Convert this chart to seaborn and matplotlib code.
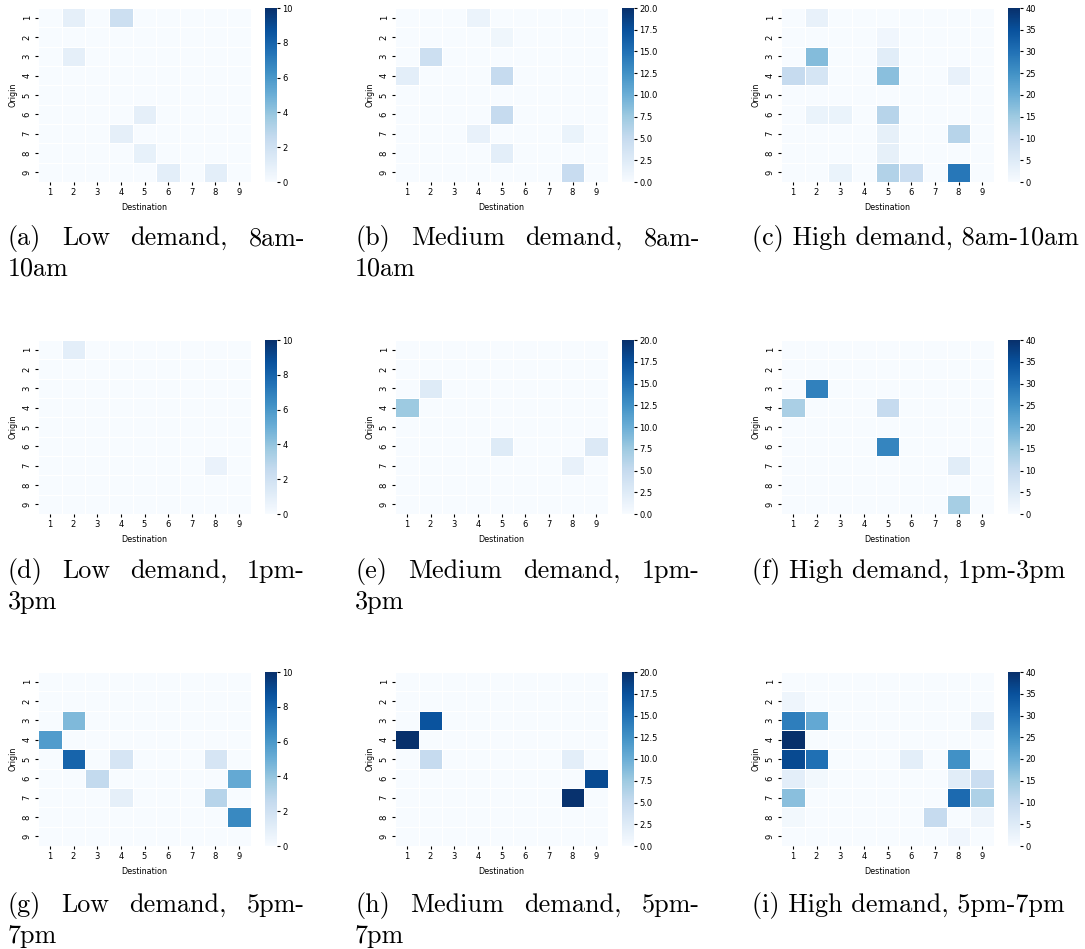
import numpy as np
import matplotlib
matplotlib.use("Agg")
import matplotlib.pyplot as plt
import seaborn as sns

zones = [1, 2, 3, 4, 5, 6, 7, 8, 9]

low_8am = [
    [0, 0.9, 0, 2.2, 0, 0, 0, 0, 0],
    [0, 0, 0, 0, 0, 0, 0, 0, 0],
    [0, 0.9, 0, 0, 0, 0, 0, 0, 0],
    [0, 0, 0, 0, 0, 0, 0, 0, 0],
    [0, 0, 0, 0, 0, 0, 0, 0, 0],
    [0, 0, 0, 0, 0.9, 0, 0, 0, 0],
    [0, 0, 0, 0.9, 0, 0, 0, 0, 0],
    [0, 0, 0, 0, 0.8, 0, 0, 0, 0],
    [0, 0, 0, 0, 0, 1.0, 0, 1.0, 0],
]
med_8am = [
    [0, 0, 0, 1.2, 0, 0, 0, 0, 0],
    [0, 0, 0, 0, 0.8, 0, 0, 0, 0],
    [0, 4.4, 0, 0, 0, 0, 0, 0, 0],
    [2.0, 0, 0, 0, 5.0, 0, 0, 0, 0],
    [0, 0, 0, 0, 0, 0, 0, 0, 0],
    [0, 0, 0, 0, 5.0, 0, 0, 0, 0],
    [0, 0, 0, 1.5, 0, 0, 0, 1.3, 0],
    [0, 0, 0, 0, 2.0, 0, 0, 0, 0],
    [0, 0, 0, 0, 0, 0, 0, 4.8, 0],
]
high_8am = [
    [0, 3.0, 0, 0, 0, 0, 0, 0, 0],
    [0, 0, 0, 0, 1.5, 0, 0, 0, 0],
    [0, 17.5, 0, 0, 4.5, 0, 0, 0, 0],
    [10.0, 7.0, 0, 0, 17.0, 0, 0, 3.0, 0],
    [0, 0, 0, 0, 0, 0, 0, 0, 0],
    [0, 2.5, 2.5, 0, 12.0, 0, 0, 0, 0],
    [0, 0, 0, 0, 3.5, 0, 0, 12.0, 0],
    [0, 0, 0, 0, 3.5, 0, 0, 0, 0],
    [0, 0, 2.5, 0, 12.5, 9.0, 0, 29.0, 0],
]
low_1pm = [
    [0, 1.0, 0, 0, 0, 0, 0, 0, 0],
    [0, 0, 0, 0, 0, 0, 0, 0, 0],
    [0, 0, 0, 0, 0, 0, 0, 0, 0],
    [0, 0, 0, 0, 0, 0, 0, 0, 0],
    [0, 0, 0, 0, 0, 0, 0, 0, 0],
    [0, 0, 0, 0, 0, 0, 0, 0, 0],
    [0, 0, 0, 0, 0, 0, 0, 0.7, 0],
    [0, 0, 0, 0, 0, 0, 0, 0, 0],
    [0, 0, 0, 0, 0, 0, 0, 0, 0],
]
med_1pm = [
    [0, 0, 0, 0, 0, 0, 0, 0, 0],
    [0, 0, 0, 0, 0, 0, 0, 0, 0],
    [0, 2.5, 0, 0, 0, 0, 0, 0, 0],
    [7.5, 0, 0, 0, 0, 0, 0, 0, 0],
    [0, 0, 0, 0, 0, 0, 0, 0, 0],
    [0, 0, 0, 0, 2.5, 0, 0, 0, 2.8],
    [0, 0, 0, 0, 0, 0, 0, 1.5, 0],
    [0, 0, 0, 0, 0, 0, 0, 0, 0],
    [0, 0, 0, 0, 0, 0, 0, 0, 0],
]
high_1pm = [
    [0, 0, 0, 0, 0, 0, 0, 0, 0],
    [0, 0, 0, 0, 0, 0, 0, 0, 0],
    [0, 27.5, 0, 0, 0, 0, 0, 0, 0],
    [13.5, 0, 0, 0, 10.0, 0, 0, 0, 0],
    [0, 0, 0, 0, 0, 0, 0, 0, 0],
    [0, 0, 0, 0, 27.0, 0, 0, 0, 0],
    [0, 0, 0, 0, 0, 0, 0, 4.5, 0],
    [0, 0, 0, 0, 0, 0, 0, 0, 0],
    [0, 0, 0, 0, 0, 0, 0, 14.0, 0],
]
low_5pm = [
    [0, 0, 0, 0, 0, 0, 0, 0, 0],
    [0, 0, 0, 0, 0, 0, 0, 0, 0],
    [0, 4.5, 0, 0, 0, 0, 0, 0, 0],
    [5.8, 0, 0, 0, 0, 0, 0, 0, 0],
    [0, 8.0, 0, 1.7, 0, 0, 0, 1.7, 0],
    [0, 0, 2.6, 0, 0, 0, 0, 0, 5.2],
    [0, 0, 0, 0.9, 0, 0, 0, 3.0, 0],
    [0, 0, 0, 0, 0, 0, 0, 0, 6.6],
    [0, 0, 0, 0, 0, 0, 0, 0, 0],
]
med_5pm = [
    [0, 0, 0, 0, 0, 0, 0, 0, 0],
    [0, 0, 0, 0, 0, 0, 0, 0, 0],
    [0, 17.3, 0, 0, 0, 0, 0, 0, 0],
    [20.0, 0, 0, 0, 0, 0, 0, 0, 0],
    [0, 5.0, 0, 0, 0, 0, 0, 2.0, 0],
    [0, 0, 0, 0, 0, 0, 0, 0, 18.0],
    [0, 0, 0, 0, 0, 0, 0, 19.8, 0],
    [0, 0, 0, 0, 0, 0, 0, 0, 0],
    [0, 0, 0, 0, 0, 0, 0, 0, 0],
]
high_5pm = [
    [0, 0, 0, 0, 0, 0, 0, 0, 0],
    [2.0, 0, 0, 0, 0, 0, 0, 0, 0],
    [28.0, 21.0, 0, 0, 0, 0, 0, 0, 3.0],
    [40.0, 0, 0, 0, 0, 0, 0, 0, 0],
    [36.0, 30.0, 0, 0, 0, 4.0, 0, 25.0, 0],
    [4.0, 1.0, 0, 0, 0, 0, 0, 4.5, 9.0],
    [17.0, 0, 0, 0, 0, 0, 0, 31.0, 13.0],
    [1.0, 0, 0, 0, 0, 0, 10.0, 0, 2.0],
    [0, 0, 0, 0, 0, 0, 0, 1.5, 0],
]

panels = [
    [low_8am, med_8am, high_8am],
    [low_1pm, med_1pm, high_1pm],
    [low_5pm, med_5pm, high_5pm],
]
vmaxes = [10, 20, 40]
captions = [
    ["(a) Low demand, 8am-10am", "(b) Medium demand, 8am-10am", "(c) High demand, 8am-10am"],
    ["(d) Low demand, 1pm-3pm", "(e) Medium demand, 1pm-3pm", "(f) High demand, 1pm-3pm"],
    ["(g) Low demand, 5pm-7pm", "(h) Medium demand, 5pm-7pm", "(i) High demand, 5pm-7pm"],
]

W, H = 1085, 949
fig = plt.figure(figsize=(W / 100, H / 100), dpi=100)

hm_x = [38, 395, 781]
hm_w = 213
cb_x = [265, 622, 1008]
cb_w = 12
row_top = [8, 340, 672]
hm_h = 174
cap_x0 = [8, 355, 752]
cap_x1 = [305, 700, 1085]
cap_base = [245, 578, 912]
line_gap = 31
cap_size = 18.8

for r in range(3):
    for c in range(3):
        ax = fig.add_axes([hm_x[c] / W, 1 - (row_top[r] + hm_h) / H, hm_w / W, hm_h / H])
        cax = fig.add_axes([cb_x[c] / W, 1 - (row_top[r] + hm_h) / H, cb_w / W, hm_h / H])
        df = np.array(panels[r][c], dtype=float)
        sns.heatmap(df, ax=ax, cbar_ax=cax, cmap="Blues", vmin=0, vmax=vmaxes[c],
                    linewidths=0.7, linecolor="white",
                    xticklabels=zones, yticklabels=zones)
        ax.set_xlabel("Destination", fontsize=5.8)
        ax.set_ylabel("Origin", fontsize=5.8)
        ax.tick_params(axis="both", labelsize=6, length=2.5, width=0.8, pad=2)
        plt.setp(ax.get_yticklabels(), rotation=90, va="center")
        plt.setp(ax.get_xticklabels(), rotation=0)
        cax.tick_params(labelsize=6, length=2.5, width=0.8, pad=1.5)

# captions (justified like LaTeX subcaptions)
fig.canvas.draw()
renderer = fig.canvas.get_renderer()


def text_width(s):
    t = fig.text(0, 0, s, fontsize=cap_size, family="cmr10")
    w = t.get_window_extent(renderer).width
    t.remove()
    return w


for r in range(3):
    for c in range(3):
        cap = captions[r][c]
        x0, x1 = cap_x0[c], cap_x1[c]
        base = cap_base[r]
        if text_width(cap) <= x1 - x0:
            fig.text(x0 / W, 1 - base / H, cap, fontsize=cap_size, family="cmr10",
                     va="baseline", ha="left")
            continue
        head, tail = cap.rsplit("-", 1)
        words = (head + "-").split(" ")
        widths = [text_width(wd) for wd in words]
        gap = (x1 - x0 - sum(widths)) / (len(words) - 1)
        x = x0
        for wd, ww in zip(words, widths):
            fig.text(x / W, 1 - base / H, wd, fontsize=cap_size, family="cmr10",
                     va="baseline", ha="left")
            x += ww + gap
        fig.text(x0 / W, 1 - (base + line_gap) / H, tail, fontsize=cap_size, family="cmr10",
                 va="baseline", ha="left")

fig.savefig("out.png", dpi=100)
